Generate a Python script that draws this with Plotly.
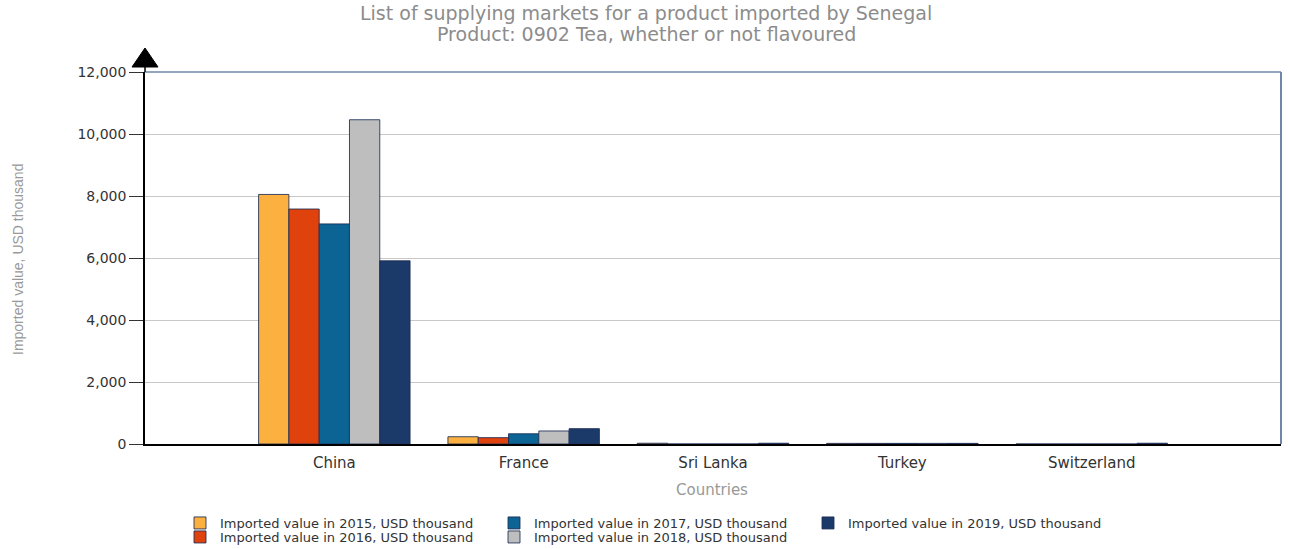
import plotly.graph_objects as go

countries = ["China", "France", "Sri Lanka", "Turkey", "Switzerland"]
series_names = [
    "Imported value in 2015, USD thousand",
    "Imported value in 2016, USD thousand",
    "Imported value in 2017, USD thousand",
    "Imported value in 2018, USD thousand",
    "Imported value in 2019, USD thousand",
]
v2015 = [8050, 235, 25, 20, 0]
v2016 = [7580, 205, 0, 20, 0]
v2017 = [7100, 330, 0, 20, 0]
v2018 = [10460, 420, 0, 20, 0]
v2019 = [5910, 495, 25, 20, 25]
values = [v2015, v2016, v2017, v2018, v2019]
colors = ["#FBB040", "#E0420E", "#0B6494", "#BEBEBE", "#1C3A69"]
legend_ids = ["legend", "legend2", "legend", "legend2", "legend"]

W, H = 1290, 549
L, R, T, B = 145, 9, 72, 105
PW, PH = W - L - R, H - T - B


def px_x(x):
    return (x - L) / PW


def px_y(y):
    return (H - B - y) / PH


fig = go.Figure()
for name, vals, col, lg in zip(series_names, values, colors, legend_ids):
    fig.add_trace(go.Bar(
        x=countries, y=vals, name=name, legend=lg,
        marker=dict(color=col, line=dict(color="rgba(28,45,85,0.85)", width=1)),
    ))

legend_common = dict(
    orientation="h", entrywidth=269, entrywidthmode="pixels",
    font=dict(family="DejaVu Sans", size=13, color="#333333"),
    xref="container", yref="container",
    xanchor="left", yanchor="middle", bgcolor="rgba(0,0,0,0)",
    tracegroupgap=0, itemclick=False, borderwidth=0,
)

fig.update_layout(
    width=W, height=H,
    margin=dict(l=L, r=R, t=T, b=B, autoexpand=False),
    paper_bgcolor="white", plot_bgcolor="white",
    barmode="group", bargap=0.2, bargroupgap=0,
    xaxis=dict(
        type="category", range=[-1, 5], showline=True, linecolor="#000000",
        linewidth=1.5, ticks="", showgrid=False, zeroline=False,
        automargin=False,
        tickfont=dict(family="DejaVu Sans", size=15, color="#333333"),
        ticklabelstandoff=4,
    ),
    yaxis=dict(
        range=[0, 12000], dtick=2000, tickformat=",", showline=True,
        linecolor="#000000", linewidth=1.5, ticks="outside", ticklen=14,
        tickcolor="#333333", showgrid=True, gridcolor="#C8C8C8", gridwidth=1,
        zeroline=False, automargin=False,
        tickfont=dict(family="DejaVu Sans", size=14, color="#333333"),
    ),
    legend=dict(x=180 / W, y=1 - 523 / H, **legend_common),
    legend2=dict(x=180 / W, y=1 - 537 / H, **legend_common),
    showlegend=True,
)

fig.add_annotation(
    text="List of supplying markets for a product imported by Senegal",
    xref="paper", yref="paper", x=px_x(646), y=px_y(13),
    xanchor="center", yanchor="middle", showarrow=False,
    font=dict(family="DejaVu Sans", size=19, color="#8c8c8c"),
)
fig.add_annotation(
    text="Product: 0902 Tea, whether or not flavoured",
    xref="paper", yref="paper", x=px_x(646), y=px_y(34),
    xanchor="center", yanchor="middle", showarrow=False,
    font=dict(family="DejaVu Sans", size=19, color="#8c8c8c"),
)
fig.add_annotation(
    text="Countries", xref="paper", yref="paper", x=px_x(712), y=px_y(490),
    xanchor="center", yanchor="middle", showarrow=False,
    font=dict(family="DejaVu Sans", size=15, color="#999999"),
)
fig.add_annotation(
    text="Imported value, USD thousand", xref="paper", yref="paper",
    x=px_x(18), y=px_y(260), textangle=-90, xanchor="center",
    yanchor="middle", showarrow=False,
    font=dict(family="Liberation Sans", size=14, color="#999999"),
)

# plot frame (top and right edges)
fig.add_shape(type="line", xref="paper", yref="paper", x0=0, x1=1, y0=1, y1=1,
              line=dict(color="#6F86A8", width=1.5), layer="above")
fig.add_shape(type="line", xref="paper", yref="paper", x0=1, x1=1, y0=0, y1=1,
              line=dict(color="#6F86A8", width=2), layer="above")
# y-axis extension and arrow head
fig.add_shape(type="line", xref="paper", yref="paper", ysizemode="pixel",
              yanchor=1, x0=0, x1=0, y0=0, y1=6,
              line=dict(color="#000000", width=1.5))
fig.add_shape(type="path", xref="paper", yref="paper", xsizemode="pixel",
              ysizemode="pixel", xanchor=0, yanchor=1,
              path="M-13,5 L13,5 L0,24 Z",
              fillcolor="#000000", line=dict(color="#000000", width=1))

fig.write_html("out.html", config={"displayModeBar": False},
               post_script="document.body.style.margin='0px';")
